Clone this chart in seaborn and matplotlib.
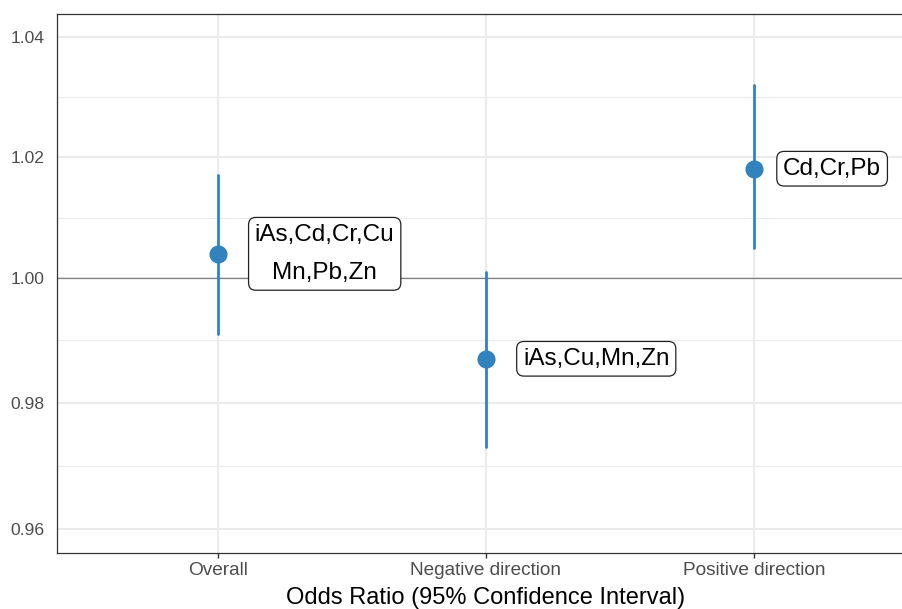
import numpy as np
import pandas as pd
import matplotlib
matplotlib.use("Agg")
import matplotlib.pyplot as plt
import seaborn as sns

# ---- data ----
categories = ["Overall", "Negative direction", "Positive direction"]
odds_ratio = [1.004, 0.987, 1.018]
ci_lower = [0.991, 0.973, 1.005]
ci_upper = [1.017, 1.001, 1.032]
labels = ["iAs,Cd,Cr,Cu\nMn,Pb,Zn", "iAs,Cu,Mn,Zn", "Cd,Cr,Pb"]
y_ticks = [0.96, 0.98, 1.00, 1.02, 1.04]

# long-form table: lower / estimate / upper per group
rows = []
for c, lo, est, hi in zip(categories, ci_lower, odds_ratio, ci_upper):
    for v in (lo, est, hi):
        rows.append({"group": c, "OR": v})
df = pd.DataFrame(rows)

sns.set_theme(style="white")
plt.rcParams["font.family"] = ["Liberation Sans", "DejaVu Sans"]

fig = plt.figure(figsize=(9.03, 6.09), dpi=100)
ax = fig.add_axes([57 / 903, 1 - 553 / 609, (915 - 57) / 903, (553 - 14) / 609])

blue = "#3182BD"
sns.pointplot(data=df, x="group", y="OR", order=categories,
              estimator="median", errorbar=("pi", 100),
              linestyle="none", color=blue, markersize=11,
              err_kws={"linewidth": 2.0}, ax=ax, zorder=4)

ax.set_yscale("log")
ax.set_ylim(0.9563, 1.04395)
ax.set_xlim(-0.6, 2.6)

# grid
ax.set_yticks(y_ticks)
ax.set_yticklabels([f"{t:.2f}" for t in y_ticks])
minor = [np.sqrt(a * b) for a, b in zip(y_ticks[:-1], y_ticks[1:])]
ax.set_yticks(minor, minor=True)
ax.yaxis.set_minor_formatter(matplotlib.ticker.NullFormatter())
ax.grid(True, which="major", axis="both", color="#EBEBEB", linewidth=1.4, zorder=0)
ax.grid(True, which="minor", axis="y", color="#EBEBEB", linewidth=0.8, zorder=0)
ax.set_axisbelow(True)

ax.axhline(1.0, color="#7F7F7F", linewidth=0.9, zorder=1)

for i, (lab, est) in enumerate(zip(labels, odds_ratio)):
    off = 29 if i == 2 else 37
    ax.annotate(lab, xy=(i, est), xytext=(off, 0), textcoords="offset pixels",
                ha="left", va="center", multialignment="center",
                fontsize=17.5, color="black", linespacing=1.95, zorder=5,
                bbox=dict(boxstyle="round,pad=0.26,rounding_size=0.3",
                          fc="white", ec="#222222", lw=0.9))

for name, s in ax.spines.items():
    s.set_color("#333333")
    s.set_linewidth(0.9)
ax.spines["right"].set_visible(False)

ax.tick_params(axis="x", which="major", length=3.5, width=1.0, color="#333333",
               labelsize=13.7, labelcolor="#4D4D4D", pad=3, bottom=True)
ax.tick_params(axis="y", which="both", length=0, labelsize=12.6,
               labelcolor="#4D4D4D", pad=9)

ax.set_xlabel("Odds Ratio (95% Confidence Interval)", fontsize=17,
              color="black", labelpad=6)
ax.set_ylabel("")

fig.savefig("out.png", dpi=100)
